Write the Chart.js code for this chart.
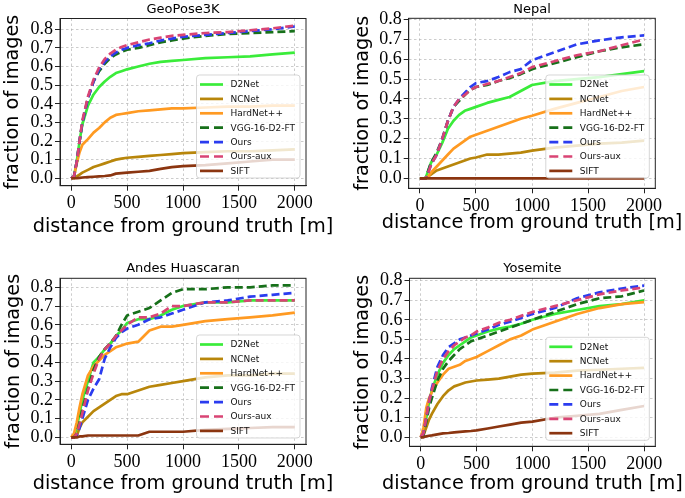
<!DOCTYPE html>
<html><head><meta charset="utf-8">
<script src="https://cdn.jsdelivr.net/npm/chart.js@4.4.0/dist/chart.umd.min.js"></script>
<style>
html,body{margin:0;padding:0;background:#fff;}
body{width:685px;height:498px;position:relative;overflow:hidden;}
.p{position:absolute;}
canvas{display:block;}
</style></head><body>
<div class="p" style="left:0;top:0;width:342px;height:249px"><canvas id="c0" width="342" height="249"></canvas></div>
<div class="p" style="left:342px;top:0;width:343px;height:249px"><canvas id="c1" width="343" height="249"></canvas></div>
<div class="p" style="left:0;top:249px;width:342px;height:249px"><canvas id="c2" width="342" height="249"></canvas></div>
<div class="p" style="left:342px;top:249px;width:343px;height:249px"><canvas id="c3" width="343" height="249"></canvas></div>
<script>
// ---------- data ----------
const methods = ["D2Net", "NCNet", "HardNet++", "VGG-16-D2-FT", "Ours", "Ours-aux", "SIFT"];
const panelTitles = ["GeoPose3K", "Nepal", "Andes Huascaran", "Yosemite"];
const distances = [0, 25, 50, 75, 100, 150, 200, 250, 300, 350, 400, 450, 500, 600, 700, 800, 900, 1000, 1200, 1400, 1600, 1800, 2000];
const xTicks = [0, 500, 1000, 1500, 2000];
const yTicks = [0, 0.1, 0.2, 0.3, 0.4, 0.5, 0.6, 0.7, 0.8];
const xLabel = "distance from ground truth [m]";
const yLabel = "fraction of images";

// GeoPose3K
const geoD2Net   = [0, 0.01, 0.09, 0.2, 0.29, 0.39, 0.45, 0.49, 0.52, 0.545, 0.565, 0.575, 0.585, 0.6, 0.615, 0.625, 0.63, 0.635, 0.645, 0.65, 0.655, 0.665, 0.675];
const geoNCNet   = [0, 0, 0.01, 0.02, 0.03, 0.045, 0.06, 0.07, 0.08, 0.09, 0.1, 0.105, 0.11, 0.115, 0.12, 0.125, 0.13, 0.135, 0.14, 0.145, 0.145, 0.15, 0.155];
const geoHardNet = [0, 0.01, 0.08, 0.14, 0.18, 0.21, 0.245, 0.27, 0.3, 0.325, 0.34, 0.345, 0.35, 0.36, 0.365, 0.37, 0.375, 0.375, 0.38, 0.385, 0.385, 0.39, 0.39];
const geoVGG     = [0, 0.01, 0.09, 0.2, 0.3, 0.43, 0.52, 0.575, 0.615, 0.645, 0.665, 0.68, 0.69, 0.7, 0.715, 0.73, 0.74, 0.75, 0.765, 0.775, 0.78, 0.785, 0.79];
const geoOurs    = [0, 0.01, 0.09, 0.2, 0.3, 0.43, 0.52, 0.585, 0.625, 0.655, 0.675, 0.69, 0.7, 0.715, 0.725, 0.74, 0.75, 0.76, 0.77, 0.78, 0.79, 0.8, 0.815];
const geoOursAux = [0, 0.01, 0.09, 0.2, 0.31, 0.44, 0.53, 0.595, 0.64, 0.67, 0.69, 0.705, 0.715, 0.73, 0.745, 0.755, 0.765, 0.77, 0.78, 0.785, 0.795, 0.805, 0.82];
const geoSIFT    = [0, 0, 0, 0.002, 0.004, 0.006, 0.008, 0.01, 0.012, 0.015, 0.025, 0.028, 0.03, 0.035, 0.04, 0.05, 0.06, 0.065, 0.07, 0.08, 0.09, 0.1, 0.1];

// Nepal
const nepD2Net   = [0, 0, 0, 0.04, 0.08, 0.12, 0.18, 0.25, 0.29, 0.32, 0.34, 0.35, 0.36, 0.38, 0.395, 0.41, 0.44, 0.47, 0.49, 0.5, 0.51, 0.525, 0.54];
const nepNCNet   = [0, 0, 0, 0.01, 0.02, 0.04, 0.05, 0.06, 0.07, 0.08, 0.09, 0.1, 0.105, 0.12, 0.12, 0.125, 0.13, 0.14, 0.155, 0.165, 0.175, 0.18, 0.19];
const nepHardNet = [0, 0, 0, 0.01, 0.03, 0.06, 0.09, 0.12, 0.15, 0.17, 0.19, 0.21, 0.22, 0.24, 0.26, 0.28, 0.3, 0.315, 0.35, 0.38, 0.41, 0.44, 0.46];
const nepVGG     = [0, 0, 0, 0.04, 0.08, 0.13, 0.2, 0.29, 0.36, 0.39, 0.42, 0.445, 0.46, 0.47, 0.49, 0.505, 0.525, 0.55, 0.58, 0.61, 0.64, 0.66, 0.675];
const nepOurs    = [0, 0, 0, 0.03, 0.07, 0.12, 0.2, 0.29, 0.36, 0.4, 0.43, 0.46, 0.48, 0.49, 0.51, 0.535, 0.55, 0.595, 0.635, 0.675, 0.695, 0.71, 0.72];
const nepOursAux = [0, 0, 0, 0.03, 0.07, 0.12, 0.2, 0.29, 0.36, 0.4, 0.42, 0.445, 0.46, 0.475, 0.49, 0.51, 0.53, 0.56, 0.59, 0.62, 0.64, 0.67, 0.7];
const nepSIFT    = [0, 0, 0, 0, 0, 0, 0, 0, 0, 0, 0, 0, 0, 0, 0, 0, 0, 0, 0, 0, 0, 0, 0];

// Andes Huascaran
const andD2Net   = [0, 0.01, 0.05, 0.13, 0.2, 0.3, 0.4, 0.43, 0.47, 0.5, 0.54, 0.57, 0.61, 0.63, 0.63, 0.65, 0.68, 0.7, 0.72, 0.72, 0.73, 0.73, 0.73];
const andNCNet   = [0, 0, 0.01, 0.05, 0.08, 0.11, 0.14, 0.16, 0.18, 0.2, 0.22, 0.23, 0.23, 0.25, 0.27, 0.28, 0.29, 0.3, 0.32, 0.33, 0.33, 0.34, 0.34];
const andHardNet = [0, 0.02, 0.08, 0.16, 0.23, 0.33, 0.38, 0.41, 0.44, 0.46, 0.48, 0.49, 0.5, 0.51, 0.57, 0.59, 0.59, 0.6, 0.62, 0.63, 0.64, 0.65, 0.665];
const andVGG     = [0, 0, 0.02, 0.08, 0.15, 0.26, 0.36, 0.43, 0.47, 0.5, 0.54, 0.6, 0.65, 0.67, 0.69, 0.73, 0.77, 0.79, 0.79, 0.8, 0.8, 0.81, 0.81];
const andOurs    = [0, 0, 0.01, 0.05, 0.1, 0.2, 0.26, 0.31, 0.42, 0.48, 0.53, 0.56, 0.58, 0.6, 0.63, 0.64, 0.66, 0.68, 0.72, 0.73, 0.75, 0.76, 0.77];
const andOursAux = [0, 0, 0.02, 0.07, 0.13, 0.25, 0.34, 0.42, 0.47, 0.5, 0.54, 0.57, 0.6, 0.64, 0.64, 0.66, 0.7, 0.7, 0.72, 0.72, 0.73, 0.73, 0.73];
const andSIFT    = [0, 0, 0, 0.005, 0.005, 0.01, 0.01, 0.01, 0.01, 0.01, 0.01, 0.01, 0.01, 0.01, 0.03, 0.03, 0.03, 0.03, 0.04, 0.045, 0.05, 0.055, 0.055];

// Yosemite
const yosD2Net   = [0, 0.02, 0.1, 0.18, 0.24, 0.32, 0.38, 0.42, 0.45, 0.47, 0.49, 0.51, 0.52, 0.54, 0.555, 0.565, 0.58, 0.6, 0.63, 0.65, 0.67, 0.68, 0.7];
const yosNCNet   = [0, 0.01, 0.05, 0.09, 0.12, 0.17, 0.21, 0.24, 0.26, 0.27, 0.28, 0.285, 0.29, 0.295, 0.3, 0.31, 0.32, 0.325, 0.33, 0.34, 0.345, 0.35, 0.355];
const yosHardNet = [0, 0.05, 0.15, 0.2, 0.23, 0.28, 0.32, 0.35, 0.36, 0.37, 0.39, 0.4, 0.41, 0.44, 0.47, 0.5, 0.52, 0.55, 0.59, 0.63, 0.66, 0.68, 0.69];
const yosVGG     = [0, 0.01, 0.08, 0.15, 0.2, 0.29, 0.35, 0.39, 0.42, 0.45, 0.47, 0.49, 0.5, 0.52, 0.54, 0.56, 0.58, 0.6, 0.64, 0.68, 0.71, 0.72, 0.75];
const yosOurs    = [0, 0.02, 0.1, 0.18, 0.25, 0.36, 0.42, 0.46, 0.48, 0.5, 0.51, 0.52, 0.53, 0.55, 0.575, 0.59, 0.61, 0.63, 0.66, 0.71, 0.74, 0.76, 0.775];
const yosOursAux = [0, 0.02, 0.1, 0.18, 0.24, 0.34, 0.4, 0.44, 0.47, 0.49, 0.51, 0.52, 0.54, 0.56, 0.585, 0.6, 0.62, 0.64, 0.67, 0.7, 0.73, 0.75, 0.765];
const yosSIFT    = [0, 0, 0.005, 0.008, 0.01, 0.015, 0.02, 0.022, 0.025, 0.028, 0.03, 0.032, 0.035, 0.045, 0.055, 0.065, 0.075, 0.08, 0.1, 0.11, 0.12, 0.14, 0.16];

const panelSeries = [
  [geoD2Net, geoNCNet, geoHardNet, geoVGG, geoOurs, geoOursAux, geoSIFT],
  [nepD2Net, nepNCNet, nepHardNet, nepVGG, nepOurs, nepOursAux, nepSIFT],
  [andD2Net, andNCNet, andHardNet, andVGG, andOurs, andOursAux, andSIFT],
  [yosD2Net, yosNCNet, yosHardNet, yosVGG, yosOurs, yosOursAux, yosSIFT]
];

// ---------- styles ----------
const colors = ["#3aec3a", "#b8860b", "#ff9a22", "#17701a", "#2b3cef", "#d94474", "#8b3510"];
const dashed = [false, false, false, true, true, true, false];
const SANS = '"DejaVu Sans", sans-serif';
const SERIF = '"Liberation Serif", "DejaVu Serif", serif';

const layouts = [
  {w:342, area:{l:60, r:306, t:18.5, b:185.7}, y:[-0.04, 0.858], titleC:10, xTitleC:226.5, yTitleC:12.5, legTop:56.5},
  {w:343, area:{l:66.7, r:313.3, t:18.3, b:188.3}, y:[-0.05, 0.806], titleC:10, xTitleC:223.2, yTitleC:21, legTop:56.7},
  {w:342, area:{l:60, r:306, t:29.3, b:195.3}, y:[-0.037, 0.848], titleC:19.5, xTitleC:234.8, yTitleC:13.5, legTop:56.7},
  {w:343, area:{l:67.5, r:313.3, t:29.3, b:197.3}, y:[-0.046, 0.812], titleC:19.5, xTitleC:234.8, yTitleC:21, legTop:59}
];
const H = 249;

const framePlugin = {
  id: 'frame',
  afterDatasetsDraw(chart) {
    const {ctx, chartArea: a} = chart;
    ctx.save();
    ctx.strokeStyle = '#222';
    ctx.lineWidth = 1;
    ctx.setLineDash([]);
    ctx.strokeRect(a.left, a.top, a.right - a.left, a.bottom - a.top);
    ctx.restore();
  }
};

// axis titles drawn without the width squeeze the scale titles apply
const axisTitlePlugin = {
  id: 'axisTitles',
  afterDraw(chart, args, opts) {
    const {ctx, chartArea: a} = chart;
    const xs = chart.options.scales.x.title, ys = chart.options.scales.y.title;
    ctx.save();
    ctx.fillStyle = '#000';
    ctx.font = '19.3px ' + SANS;
    ctx.textAlign = 'center';
    ctx.textBaseline = 'middle';
    ctx.fillText(xs.text, (a.left + a.right) / 2, opts.xTitleC);
    ctx.translate(opts.yTitleC, (a.top + a.bottom) / 2);
    ctx.rotate(-Math.PI / 2);
    ctx.fillText(ys.text, 0, 0);
    ctx.restore();
  }
};

const boxLegendPlugin = {
  id: 'boxLegend',
  afterDraw(chart, args, opts) {
    const {ctx, chartArea: a} = chart;
    const bw = 103.5, bh = 103;
    const x = a.right - 6 - bw, y = a.top + opts.top;
    ctx.save();
    ctx.beginPath();
    const r = 3;
    ctx.moveTo(x + r, y);
    ctx.arcTo(x + bw, y, x + bw, y + bh, r);
    ctx.arcTo(x + bw, y + bh, x, y + bh, r);
    ctx.arcTo(x, y + bh, x, y, r);
    ctx.arcTo(x, y, x + bw, y, r);
    ctx.closePath();
    ctx.fillStyle = 'rgba(255,255,255,0.8)';
    ctx.fill();
    ctx.strokeStyle = 'rgba(204,204,204,0.8)';
    ctx.lineWidth = 1;
    ctx.stroke();
    chart.data.datasets.forEach((ds, i) => {
      const cy = y + 9.5 + i * 14.4;
      ctx.beginPath();
      ctx.strokeStyle = ds.borderColor;
      ctx.lineWidth = 2.7;
      ctx.setLineDash(ds.borderDash && ds.borderDash.length ? [9, 5] : []);
      ctx.moveTo(x + 3.5, cy);
      ctx.lineTo(x + 26.5, cy);
      ctx.stroke();
      ctx.setLineDash([]);
      ctx.fillStyle = '#111';
      ctx.font = '9px ' + SANS;
      ctx.textBaseline = 'middle';
      ctx.textAlign = 'left';
      ctx.fillText(ds.label, x + 34, cy + 0.5);
    });
    ctx.restore();
  }
};

layouts.forEach((L, p) => {
  const series = panelSeries[p];
  const datasets = methods.map((m, i) => ({
    label: m,
    data: distances.map((d, k) => ({x: d, y: series[i][k]})),
    borderColor: colors[i],
    backgroundColor: colors[i],
    borderWidth: 2.7,
    borderDash: dashed[i] ? [8, 4] : [],
    borderJoinStyle: 'round',
    pointRadius: 0,
    tension: 0,
    fill: false,
    order: methods.length - i
  }));
  const titleLH = 13 * 1.2;
  new Chart(document.getElementById('c' + p), {
    type: 'line',
    data: {datasets},
    plugins: [framePlugin, axisTitlePlugin, boxLegendPlugin],
    options: {
      responsive: false,
      animation: false,
      devicePixelRatio: 1,
      layout: {padding: {top: 0, left: 0, bottom: 0, right: L.w - L.area.r}},
      plugins: {
        legend: {display: false},
        tooltip: {enabled: false},
        title: {
          display: true, text: panelTitles[p], fullSize: false,
          color: '#000', font: {family: SANS, size: 13, weight: 'normal'},
          padding: {top: L.titleC - titleLH / 2, bottom: L.area.t - L.titleC - titleLH / 2}
        },
        axisTitles: {xTitleC: L.xTitleC, yTitleC: L.yTitleC},
        boxLegend: {top: L.legTop}
      },
      scales: {
        x: {
          type: 'linear', min: -100, max: 2100,
          afterFit(s) { s.height = H - L.area.b; },
          afterBuildTicks(s) { s.ticks = xTicks.map(v => ({value: v})); },
          ticks: {color: '#000', font: {family: SERIF, size: 18}, padding: 2, maxRotation: 0, autoSkip: false,
                  callback: v => String(v)},
          grid: {color: 'rgba(170,170,170,0.75)', lineWidth: 0.8, tickLength: 5, tickColor: '#222', tickWidth: 1},
          border: {display: true, color: '#222', width: 1, dash: [2.5, 2.5]},
          title: {display: false, text: xLabel}
        },
        y: {
          type: 'linear', min: L.y[0], max: L.y[1],
          afterFit(s) { s.width = L.area.l; },
          afterBuildTicks(s) { s.ticks = yTicks.map(v => ({value: v})); },
          ticks: {color: '#000', font: {family: SERIF, size: 18}, padding: 2, autoSkip: false,
                  callback: v => Number(v).toFixed(1)},
          grid: {color: 'rgba(170,170,170,0.75)', lineWidth: 0.8, tickLength: 5, tickColor: '#222', tickWidth: 1},
          border: {display: true, color: '#222', width: 1, dash: [2.5, 2.5]},
          title: {display: false, text: yLabel}
        }
      }
    }
  });
});
</script>
</body></html>
